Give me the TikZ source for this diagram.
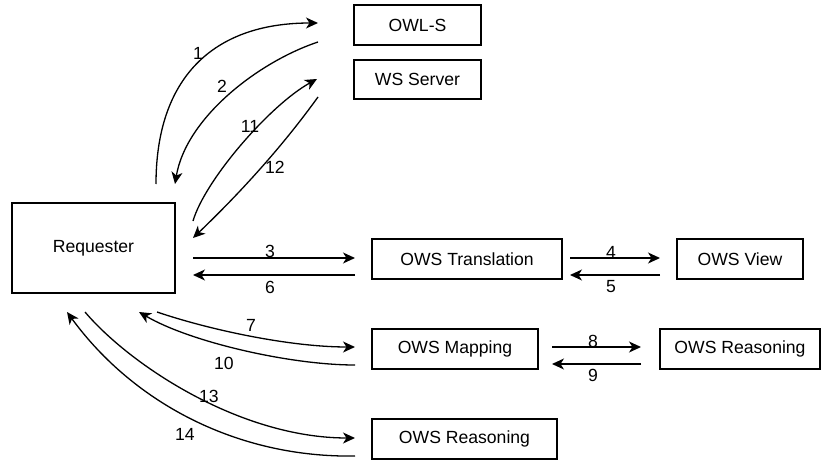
\documentclass[tikz,border=0pt]{standalone}
\usepackage{fontspec}
\setmainfont{Liberation Sans}
\usetikzlibrary{arrows.meta}

\tikzset{
  box/.style={draw, line width=1.3pt, inner sep=0pt, font=\fontsize{17.6}{20}\selectfont},
  flow/.style={line width=1.3pt, -{Stealth[length=12pt, width=11pt, inset=3.5pt]}},
  num/.style={inner sep=0pt, font=\fontsize{17.6}{20}\selectfont}
}

\begin{document}
\begin{tikzpicture}[x=1pt, y=-1pt]
  \useasboundingbox (0,0) rectangle (836,460);

  % services
  \node[box, minimum width=127pt, minimum height=40pt] (owls)  at (417.5,25)  {OWL-S};
  \node[box, minimum width=127pt, minimum height=39pt] (wss)   at (417.5,79.5) {WS Server};
  \node[box, minimum width=163pt, minimum height=90pt] (req)   at (93.5,248)  {Requester};
  \node[box, minimum width=190pt, minimum height=40pt] (trans) at (467,259)   {OWS Translation};
  \node[box, minimum width=126pt, minimum height=40pt] (view)  at (740,259)   {OWS View};
  \node[box, minimum width=166pt, minimum height=40pt] (map)   at (455,349)   {OWS Mapping};
  \node[box, minimum width=160pt, minimum height=40pt] (reasA) at (740,349)   {OWS Reasoning};
  \node[box, minimum width=185pt, minimum height=40pt] (reasB) at (464.5,439) {OWS Reasoning};

  % message end points
  \coordinate (a1s) at (156,184);  \coordinate (a1e) at (318,23);
  \coordinate (a2s) at (318,42);   \coordinate (a2e) at (175,184);
  \coordinate (a11s) at (193,221); \coordinate (a11e) at (317,79);
  \coordinate (a12s) at (318,97);  \coordinate (a12e) at (193,238);
  \coordinate (a3s) at (193,258);  \coordinate (a3e) at (355,258);
  \coordinate (a6s) at (355,275);  \coordinate (a6e) at (193,275);
  \coordinate (a4s) at (570,258);  \coordinate (a4e) at (660,258);
  \coordinate (a5s) at (660,275);  \coordinate (a5e) at (570,275);
  \coordinate (a8s) at (552,347);  \coordinate (a8e) at (641,347);
  \coordinate (a9s) at (641,364);  \coordinate (a9e) at (552,364);
  \coordinate (a7s) at (157,312);  \coordinate (a7e) at (355,347);
  \coordinate (a10s) at (355,365); \coordinate (a10e) at (139,312);
  \coordinate (a13s) at (85,312);  \coordinate (a13e) at (355,438);
  \coordinate (a14s) at (355,456); \coordinate (a14e) at (67,312);

  % requester <-> OWL-S / WS Server
  \draw[flow] (a1s) .. controls (156,79) and (212,23) .. (a1e);
  \draw[flow] (a2s) .. controls (258,62) and (186,118) .. (a2e);
  \draw[flow] (a11s) .. controls (205,180) and (270,105) .. (a11e);
  \draw[flow] (a12s) .. controls (282,147) and (240,193) .. (a12e);

  % requester <-> translation, translation <-> view
  \draw[flow] (a3s) -- (a3e);
  \draw[flow] (a6s) -- (a6e);
  \draw[flow] (a4s) -- (a4e);
  \draw[flow] (a5s) -- (a5e);

  % requester <-> mapping, mapping <-> reasoning
  \draw[flow] (a7s) .. controls (210,330) and (290,347) .. (a7e);
  \draw[flow] (a10s) .. controls (290,365) and (190,342) .. (a10e);
  \draw[flow] (a8s) -- (a8e);
  \draw[flow] (a9s) -- (a9e);

  % requester <-> reasoning
  \draw[flow] (a13s) .. controls (130,365) and (240,438) .. (a13e);
  \draw[flow] (a14s) .. controls (240,458) and (135,405) .. (a14e);

  % step numbers
  \node[num] (n1)  at (198,53)  {1};
  \node[num] (n2)  at (222,86)  {2};
  \node[num] (n11) at (250,126) {11};
  \node[num] (n12) at (275,167) {12};
  \node[num] (n3)  at (270,251) {3};
  \node[num] (n6)  at (270,287) {6};
  \node[num] (n4)  at (611,252) {4};
  \node[num] (n5)  at (611,287) {5};
  \node[num] (n8)  at (593,341) {8};
  \node[num] (n9)  at (593,375) {9};
  \node[num] (n7)  at (251,325) {7};
  \node[num] (n10) at (224,363) {10};
  \node[num] (n13) at (209,396) {13};
  \node[num] (n14) at (185,434) {14};
\end{tikzpicture}
\end{document}
